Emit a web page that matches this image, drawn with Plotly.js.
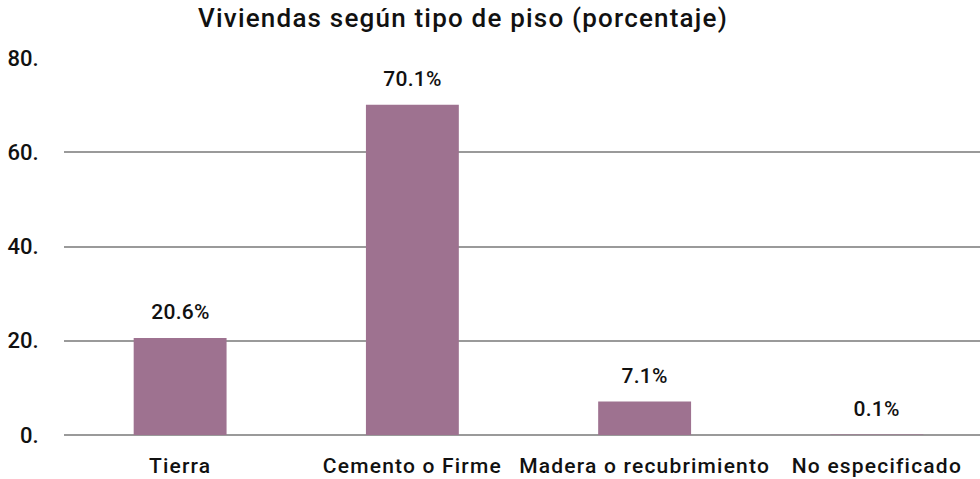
<!DOCTYPE html>
<html>
<head>
<meta charset="utf-8">
<script src="https://cdn.plot.ly/plotly-3.0.1.min.js"></script>
<style>
html,body{margin:0;padding:0;overflow:hidden;background:#fff;}
#chart{width:995px;height:479px;}
#chart .xtick text{letter-spacing:1.2px;}
#chart .gtitle{letter-spacing:1.2px;}
#chart .annotation-text{letter-spacing:0.3px;}
</style>
</head>
<body>
<div id="chart"></div>
<script>
const categories = ["Tierra", "Cemento o Firme", "Madera o recubrimiento", "No especificado"];
const values = [20.6, 70.1, 7.1, 0.1];
const valueLabels = ["20.6%", "70.1%", "7.1%", "0.1%"];
const yTickVals = [0, 20, 40, 60, 80];
const yTickText = ["0.", "20.", "40.", "60.", "80."];

const FONT = "Roboto, 'DejaVu Sans', sans-serif";

const trace = {
  type: "bar",
  x: categories,
  y: values,
  marker: {color: "#9e7290"},
  hoverinfo: "none"
};

const annotations = categories.map((c, i) => ({
  x: c, y: values[i], xref: "x", yref: "y",
  text: valueLabels[i], showarrow: false,
  yanchor: "bottom", yshift: 12,
  font: {family: FONT, size: 21, color: "#111", weight: 500}
}));

const layout = {
  width: 995, height: 479,
  margin: {l: 64, r: 2, t: 58, b: 44},
  paper_bgcolor: "#fff", plot_bgcolor: "#fff",
  bargap: 0.6,
  showlegend: false,
  title: {
    text: "Viviendas según tipo de piso (porcentaje)",
    font: {family: FONT, size: 26, color: "#111", weight: 500},
    x: 463 / 995, xref: "container", xanchor: "center", y: 0.962, yanchor: "middle"
  },
  xaxis: {
    type: "category",
    tickfont: {family: FONT, size: 21, color: "#111", weight: 500},
    ticks: "outside", ticklen: 12, tickcolor: "rgba(0,0,0,0)",
    showline: false, showgrid: false, zeroline: false
  },
  yaxis: {
    range: [0, 80],
    tickvals: yTickVals, ticktext: yTickText,
    tickfont: {family: FONT, size: 22, color: "#111", weight: 500},
    ticks: "outside", ticklen: 20, tickcolor: "rgba(0,0,0,0)",
    showgrid: true, gridcolor: "#9a9a9a", gridwidth: 2,
    zeroline: true, zerolinecolor: "#9a9a9a", zerolinewidth: 2,
    showline: false
  },
  annotations: annotations
};

Plotly.newPlot("chart", [trace], layout, {displayModeBar: false, staticPlot: true});
</script>
</body>
</html>
